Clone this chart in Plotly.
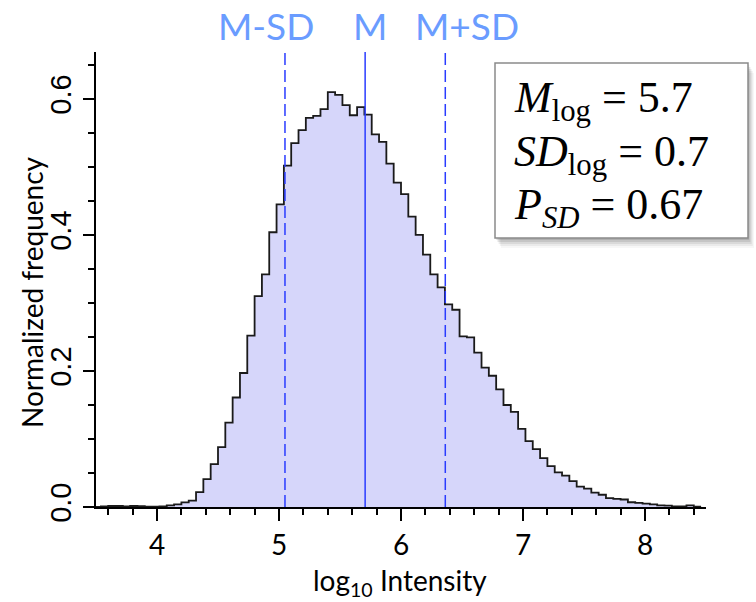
import numpy as np
import plotly.graph_objects as go

# ---- data ----
bin_start = 3.48
bin_width = 0.06
freq = [0.0003, 0.0008, 0.0015, 0.0015, 0.0008, 0.0015, 0.0012, 0.0006, 0.0005, 0.001,
        0.0025, 0.004, 0.0068, 0.0095, 0.022, 0.041, 0.063, 0.088, 0.124, 0.161,
        0.197, 0.252, 0.310, 0.342, 0.404, 0.445, 0.502, 0.535, 0.554, 0.572,
        0.575, 0.585, 0.610, 0.606, 0.591, 0.576, 0.588, 0.577, 0.548, 0.537,
        0.505, 0.477, 0.460, 0.427, 0.400, 0.371, 0.342, 0.323, 0.298, 0.290,
        0.251, 0.2495, 0.227, 0.205, 0.193, 0.173, 0.150, 0.140, 0.115, 0.097,
        0.085, 0.072, 0.060, 0.051, 0.046, 0.038, 0.030, 0.027, 0.021, 0.018,
        0.013, 0.012, 0.011, 0.007, 0.006, 0.005, 0.004, 0.0025, 0.002, 0.001,
        0.001, 0.0025, 0.0005]
mean_log = 5.706
sd_log = 0.657
stat_names = ["M-SD", "M", "M+SD"]
stat_label_x = [4.893, 5.742, 6.537]
x_range = [3.5, 8.5]
y_range = [0, 0.669]
x_ticks = [4, 5, 6, 7, 8]
y_ticks = [0.0, 0.2, 0.4, 0.6]
info_lines = ["<i>M</i><sub>log</sub> = 5.7",
              "<i>SD</i><sub>log</sub> = 0.7",
              "<i>P</i><sub><i>SD</i></sub> = 0.67"]

# ---- layout geometry ----
W, H = 756, 602
ML, MR, MT, MB = 96, 50, 52, 95
PW, PH = W - ML - MR, H - MT - MB


def px_to_paper(px, py):
    return (px - ML) / PW, (H - MB - py) / PH


edges = bin_start + bin_width * np.arange(len(freq) + 1)
yvals = list(freq) + [freq[-1]]

fig = go.Figure()
fig.add_trace(go.Scatter(
    x=edges, y=yvals, mode="lines", line_shape="hv",
    line=dict(color="#1a1a1a", width=1.8),
    fill="tozeroy", fillcolor="rgb(214,214,250)", hoverinfo="skip",
    showlegend=False))

line_blue = "#2a3cff"
fig.add_trace(go.Scatter(x=[mean_log, mean_log], y=y_range, mode="lines",
                         line=dict(color=line_blue, width=1.5), showlegend=False))
for v in (mean_log - sd_log, mean_log + sd_log):
    fig.add_trace(go.Scatter(x=[v, v], y=y_range, mode="lines",
                             line=dict(color=line_blue, width=1.5, dash="12px,5px"),
                             showlegend=False))

annotations = []
for name, xv in zip(stat_names, stat_label_x):
    annotations.append(dict(x=xv, xref="x", y=px_to_paper(0, 26)[1], yref="paper",
                            text=name, showarrow=False, xanchor="center", yanchor="middle",
                            font=dict(family="Lato", size=37, color="#6a9cff")))

# axis titles
tx, ty = px_to_paper(400, 582)
annotations.append(dict(x=tx, y=ty, xref="paper", yref="paper",
                        text="log<sub>10</sub> Intensity", showarrow=False,
                        xanchor="center", yanchor="middle",
                        font=dict(family="Lato", size=28, color="black")))
tx, ty = px_to_paper(32, 292)
annotations.append(dict(x=tx, y=ty, xref="paper", yref="paper",
                        text="Normalized frequency", showarrow=False, textangle=-90,
                        xanchor="center", yanchor="middle",
                        font=dict(family="Lato", size=28, color="black")))

# info box text
for i, t in enumerate(info_lines):
    bx, by = px_to_paper(512, 101 + 53 * i)
    annotations.append(dict(x=bx, y=by, xref="paper", yref="paper", text=t,
                            showarrow=False, xanchor="left", yanchor="middle",
                            font=dict(family="Liberation Serif", size=44, color="black")))

shapes = []
bx0, by0 = px_to_paper(495, 238)
bx1, by1 = px_to_paper(748, 63)
for k, a in [(10, 0.03), (8, 0.05), (6, 0.07), (4, 0.09), (2, 0.10)]:
    dx = k * 0.6 / PW
    dy = k / PH
    shapes.append(dict(type="rect", xref="paper", yref="paper",
                       x0=bx0 + dx, x1=bx1 + dx, y0=by0 - dy, y1=by1 - dy,
                       line=dict(width=0), fillcolor=f"rgba(0,0,0,{a})", layer="above"))
shapes.append(dict(type="rect", xref="paper", yref="paper", x0=bx0, x1=bx1, y0=by0, y1=by1,
                   line=dict(color="#8a8a8a", width=1.5), fillcolor="white", layer="above"))

axis_common = dict(showline=True, linecolor="black", linewidth=2, ticks="outside",
                   tickcolor="black", tickwidth=2, showgrid=False, zeroline=False,
                   mirror=False)

fig.update_layout(
    width=W, height=H, margin=dict(l=ML, r=MR, t=MT, b=MB),
    paper_bgcolor="white", plot_bgcolor="white", showlegend=False,
    xaxis=dict(range=x_range, tickvals=x_ticks, ticklen=12,
               minor=dict(dtick=0.2, tick0=0, ticklen=6, tickwidth=2, tickcolor="black",
                          ticks="outside"),
               tickfont=dict(family="Lato", size=28, color="black"), **axis_common),
    yaxis=dict(range=y_range, tickvals=y_ticks, tickformat=".1f", ticklen=11, tickangle=-90,
               minor=dict(dtick=0.05, tick0=0, ticklen=6, tickwidth=2, tickcolor="black",
                          ticks="outside"),
               tickfont=dict(family="Liberation Sans", size=29, color="black"), **axis_common),
    annotations=annotations, shapes=shapes)

fig.write_html("out.html")
